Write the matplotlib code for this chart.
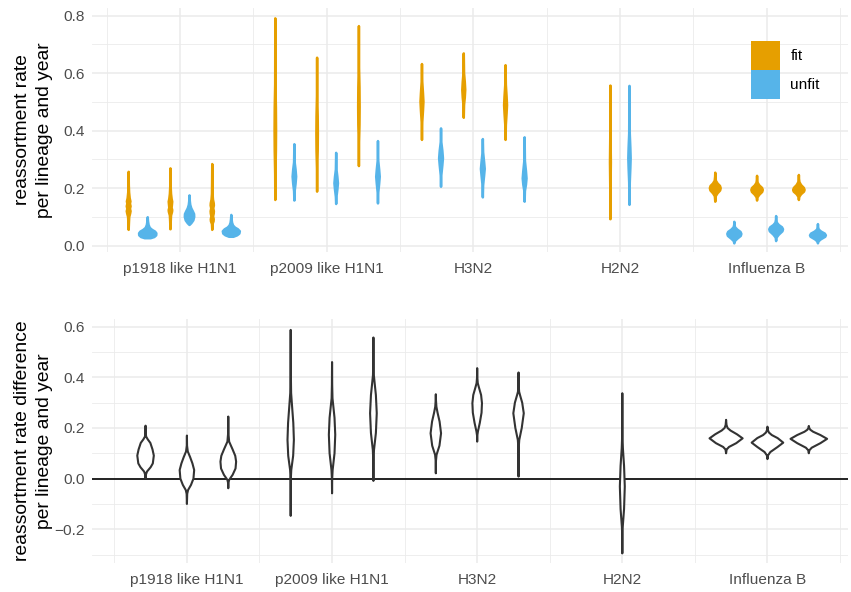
import matplotlib.pyplot as plt
from matplotlib.patches import Patch

plt.rcParams['font.family'] = ['Liberation Sans', 'DejaVu Sans']

categories = ["p1918 like H1N1", "p2009 like H1N1", "H3N2", "H2N2", "Influenza B"]

# violins: (category index, replicate slot, [(rate, half width), ...])
fit_violins = [
    (0, -1, [(0.055, 0), (0.080, 0.002), (0.100, 0.004), (0.112, 0.010), (0.120, 0.013), (0.128, 0.009),
             (0.137, 0.013), (0.146, 0.009), (0.154, 0.012), (0.165, 0.007), (0.185, 0.003), (0.210, 0.001), (0.257, 0)]),
    (0, 0, [(0.057, 0), (0.085, 0.002), (0.105, 0.004), (0.118, 0.011), (0.124, 0.012), (0.132, 0.008),
            (0.142, 0.010), (0.153, 0.012), (0.163, 0.008), (0.180, 0.004), (0.210, 0.001), (0.269, 0)]),
    (0, 1, [(0.055, 0), (0.075, 0.002), (0.085, 0.009), (0.092, 0.010), (0.102, 0.006), (0.112, 0.010),
            (0.120, 0.011), (0.130, 0.007), (0.140, 0.011), (0.148, 0.010), (0.160, 0.005), (0.180, 0.002),
            (0.220, 0.001), (0.284, 0)]),
    (1, -1, [(0.159, 0), (0.25, 0.001), (0.33, 0.004), (0.40, 0.005), (0.48, 0.004), (0.56, 0.001), (0.791, 0)]),
    (1, 0, [(0.188, 0), (0.27, 0.001), (0.33, 0.004), (0.39, 0.005), (0.45, 0.004), (0.52, 0.001), (0.654, 0)]),
    (1, 1, [(0.277, 0), (0.36, 0.001), (0.42, 0.004), (0.483, 0.005), (0.55, 0.004), (0.62, 0.001), (0.764, 0)]),
    (2, -1, [(0.368, 0), (0.43, 0.002), (0.47, 0.007), (0.501, 0.010), (0.53, 0.007), (0.57, 0.002), (0.632, 0)]),
    (2, 0, [(0.445, 0), (0.49, 0.002), (0.515, 0.007), (0.542, 0.010), (0.57, 0.007), (0.60, 0.002), (0.669, 0)]),
    (2, 1, [(0.368, 0), (0.42, 0.002), (0.46, 0.007), (0.489, 0.010), (0.52, 0.007), (0.56, 0.002), (0.628, 0)]),
    (3, 0, [(0.092, 0), (0.20, 0.001), (0.29, 0.003), (0.38, 0.001), (0.557, 0)]),
    (4, -1, [(0.153, 0), (0.172, 0.003), (0.182, 0.015), (0.192, 0.033), (0.200, 0.037), (0.208, 0.032),
             (0.216, 0.016), (0.226, 0.004), (0.240, 0.001), (0.254, 0)]),
    (4, 0, [(0.157, 0), (0.168, 0.003), (0.177, 0.015), (0.187, 0.035), (0.194, 0.039), (0.201, 0.034),
            (0.210, 0.015), (0.219, 0.004), (0.230, 0.001), (0.243, 0)]),
    (4, 1, [(0.159, 0), (0.170, 0.003), (0.179, 0.015), (0.188, 0.035), (0.194, 0.039), (0.201, 0.034),
            (0.211, 0.015), (0.221, 0.004), (0.232, 0.001), (0.246, 0)]),
]

unfit_violins = [
    (0, -1, [(0.026, 0.020), (0.030, 0.045), (0.036, 0.058), (0.043, 0.059), (0.049, 0.050), (0.055, 0.030),
             (0.062, 0.014), (0.072, 0.006), (0.085, 0.002), (0.099, 0)]),
    (0, 0, [(0.072, 0), (0.078, 0.012), (0.088, 0.026), (0.100, 0.032), (0.110, 0.031), (0.120, 0.022),
            (0.130, 0.012), (0.142, 0.005), (0.155, 0.002), (0.175, 0)]),
    (0, 1, [(0.031, 0.015), (0.036, 0.040), (0.042, 0.055), (0.050, 0.058), (0.057, 0.045), (0.063, 0.025),
            (0.070, 0.012), (0.080, 0.005), (0.092, 0.002), (0.107, 0)]),
    (1, -1, [(0.157, 0), (0.19, 0.002), (0.215, 0.008), (0.24, 0.012), (0.265, 0.008), (0.29, 0.002), (0.353, 0)]),
    (1, 0, [(0.145, 0), (0.17, 0.002), (0.195, 0.008), (0.217, 0.012), (0.24, 0.008), (0.265, 0.002), (0.323, 0)]),
    (1, 1, [(0.147, 0), (0.185, 0.002), (0.215, 0.008), (0.24, 0.012), (0.265, 0.008), (0.295, 0.002), (0.364, 0)]),
    (2, -1, [(0.205, 0), (0.245, 0.002), (0.28, 0.009), (0.304, 0.013), (0.33, 0.009), (0.36, 0.002), (0.408, 0)]),
    (2, 0, [(0.168, 0), (0.21, 0.002), (0.245, 0.009), (0.267, 0.013), (0.29, 0.009), (0.325, 0.002), (0.371, 0)]),
    (2, 1, [(0.153, 0), (0.19, 0.002), (0.212, 0.009), (0.234, 0.013), (0.26, 0.009), (0.295, 0.002), (0.377, 0)]),
    (3, 0, [(0.142, 0), (0.22, 0.002), (0.27, 0.006), (0.304, 0.008), (0.34, 0.006), (0.39, 0.002), (0.556, 0)]),
    (4, -1, [(0.008, 0), (0.016, 0.004), (0.024, 0.020), (0.034, 0.044), (0.041, 0.048), (0.048, 0.042),
             (0.056, 0.020), (0.064, 0.005), (0.072, 0.001), (0.083, 0)]),
    (4, 0, [(0.016, 0), (0.028, 0.003), (0.038, 0.018), (0.050, 0.043), (0.057, 0.047), (0.064, 0.040),
            (0.072, 0.018), (0.080, 0.005), (0.090, 0.001), (0.103, 0)]),
    (4, 1, [(0.008, 0), (0.015, 0.004), (0.022, 0.020), (0.031, 0.050), (0.036, 0.054), (0.042, 0.047),
            (0.049, 0.022), (0.056, 0.006), (0.064, 0.001), (0.075, 0)]),
]

diff_violins = [
    (0, -1, [(0.002, 0), (0.015, 0.002), (0.028, 0.010), (0.045, 0.035), (0.060, 0.050), (0.091, 0.057),
             (0.115, 0.048), (0.141, 0.033), (0.155, 0.015), (0.166, 0.004), (0.180, 0.001), (0.209, 0)]),
    (0, 0, [(-0.100, 0), (-0.060, 0.002), (-0.045, 0.008), (-0.025, 0.028), (0.000, 0.045), (0.034, 0.050),
            (0.060, 0.038), (0.085, 0.022), (0.107, 0.006), (0.130, 0.001), (0.170, 0)]),
    (0, 1, [(-0.038, 0), (-0.015, 0.002), (-0.005, 0.006), (0.015, 0.030), (0.040, 0.050), (0.067, 0.054),
            (0.090, 0.048), (0.115, 0.030), (0.146, 0.006), (0.180, 0.001), (0.245, 0)]),
    (1, -1, [(-0.147, 0), (0.000, 0.001), (0.034, 0.004), (0.090, 0.017), (0.153, 0.022), (0.220, 0.018),
             (0.290, 0.009), (0.338, 0.003), (0.420, 0.001), (0.587, 0)]),
    (1, 0, [(-0.058, 0), (0.000, 0.001), (0.034, 0.004), (0.100, 0.017), (0.173, 0.022), (0.240, 0.017),
            (0.290, 0.008), (0.317, 0.003), (0.370, 0.001), (0.460, 0)]),
    (1, 1, [(-0.009, 0), (0.070, 0.001), (0.113, 0.004), (0.180, 0.017), (0.258, 0.023), (0.330, 0.017),
            (0.380, 0.008), (0.409, 0.003), (0.460, 0.001), (0.557, 0)]),
    (2, -1, [(0.021, 0), (0.070, 0.001), (0.094, 0.005), (0.130, 0.025), (0.179, 0.036), (0.225, 0.026),
             (0.260, 0.012), (0.284, 0.004), (0.310, 0.001), (0.333, 0)]),
    (2, 0, [(0.146, 0), (0.170, 0.001), (0.186, 0.005), (0.220, 0.018), (0.260, 0.030), (0.298, 0.033),
            (0.330, 0.027), (0.360, 0.012), (0.377, 0.004), (0.400, 0.001), (0.436, 0)]),
    (2, 1, [(0.008, 0), (0.120, 0.001), (0.153, 0.005), (0.200, 0.022), (0.258, 0.036), (0.300, 0.025),
            (0.330, 0.010), (0.343, 0.004), (0.370, 0.001), (0.419, 0)]),
    (3, 0, [(-0.295, 0), (-0.220, 0.001), (-0.190, 0.003), (-0.120, 0.012), (-0.031, 0.017), (0.050, 0.012),
            (0.120, 0.004), (0.153, 0.002), (0.200, 0.001), (0.337, 0)]),
    (4, -1, [(0.100, 0), (0.115, 0.004), (0.125, 0.020), (0.140, 0.070), (0.159, 0.114), (0.175, 0.075),
             (0.190, 0.030), (0.200, 0.010), (0.212, 0.003), (0.232, 0)]),
    (4, 0, [(0.077, 0), (0.092, 0.004), (0.105, 0.020), (0.125, 0.070), (0.142, 0.109), (0.160, 0.070),
            (0.172, 0.030), (0.182, 0.010), (0.192, 0.003), (0.205, 0)]),
    (4, 1, [(0.100, 0), (0.112, 0.004), (0.122, 0.020), (0.140, 0.080), (0.157, 0.126), (0.172, 0.080),
            (0.185, 0.030), (0.193, 0.010), (0.200, 0.003), (0.208, 0)]),
]

FIT = '#E69F00'
UNFIT = '#56B4E9'
GRID = '#EBEBEB'
REP_STEP = 0.285   # spacing between the three replicates
DODGE = 0.065      # fit / unfit shift


def draw_violin(ax, cx, knots, face, edge, lw):
    ys = [k[0] for k in knots]
    ws = [k[1] for k in knots]
    xs = [cx + w for w in ws] + [cx - w for w in ws[::-1]]
    yy = ys + ys[::-1]
    ax.fill(xs, yy, facecolor=face, edgecolor=edge, linewidth=lw, joinstyle='round', zorder=3)


def style_axes(ax, xlim, ylim, yticks, yminor):
    ax.set_xlim(*xlim)
    ax.set_ylim(*ylim)
    ax.set_xticks(range(1, len(categories) + 1))
    ax.set_xticklabels(categories)
    ax.set_xticks([i + 0.5 for i in range(len(categories) + 1)], minor=True)
    ax.set_yticks(yticks)
    ax.set_yticklabels(['%.1f' % t if t >= 0 else '\u2212%.1f' % -t for t in yticks])
    ax.set_yticks(yminor, minor=True)
    ax.grid(which='major', color=GRID, linewidth=1.1)
    ax.grid(which='minor', color=GRID, linewidth=0.6)
    ax.set_axisbelow(True)
    for s in ax.spines.values():
        s.set_visible(False)
    ax.tick_params(which='both', length=0, labelsize=11.1, labelcolor='#4D4D4D')
    ax.tick_params(axis='x', pad=7)
    ax.tick_params(axis='y', pad=5)


fig = plt.figure(figsize=(8.51, 5.92), dpi=100)
ax1 = fig.add_axes([92 / 851, 1 - 252 / 592, 756 / 851, 244 / 592])
ax2 = fig.add_axes([92 / 851, 1 - 563 / 592, 756 / 851, 244 / 592])

# top panel: fit vs unfit
style_axes(ax1, (0.4, 5.555), (-0.022, 0.827), [0, 0.2, 0.4, 0.6, 0.8], [0.1, 0.3, 0.5, 0.7])
for ci, rep, knots in fit_violins:
    draw_violin(ax1, ci + 1 + rep * REP_STEP - DODGE, knots, FIT, FIT, 1.8)
for ci, rep, knots in unfit_violins:
    draw_violin(ax1, ci + 1 + rep * REP_STEP + DODGE, knots, UNFIT, UNFIT, 1.8)
ax1.set_ylabel('reassortment rate\nper lineage and year', fontsize=13.9, linespacing=1.35)
ax1.yaxis.set_label_coords(-0.052, 0.5)

fig.legend(handles=[Patch(facecolor=FIT, edgecolor='none', label='fit'),
                    Patch(facecolor=UNFIT, edgecolor='none', label='unfit')],
           loc='upper left', bbox_to_anchor=(751 / 851, 1 - 41 / 592), frameon=False,
           fontsize=11.1, handlelength=1.9, handleheight=2.52, labelspacing=0,
           handletextpad=0.65, borderpad=0, borderaxespad=0)

# bottom panel: difference
style_axes(ax2, (0.346, 5.555), (-0.333, 0.630), [-0.2, 0, 0.2, 0.4, 0.6], [-0.3, -0.1, 0.1, 0.3, 0.5])
ax2.axhline(0, color='black', linewidth=1.2, zorder=2)
for ci, rep, knots in diff_violins:
    draw_violin(ax2, ci + 1 + rep * REP_STEP, knots, 'white', '#333333', 1.5)
ax2.set_ylabel('reassortment rate difference\nper lineage and year', fontsize=13.9, linespacing=1.35)
ax2.yaxis.set_label_coords(-0.052, 0.5)

fig.savefig('out.png', dpi=100)
